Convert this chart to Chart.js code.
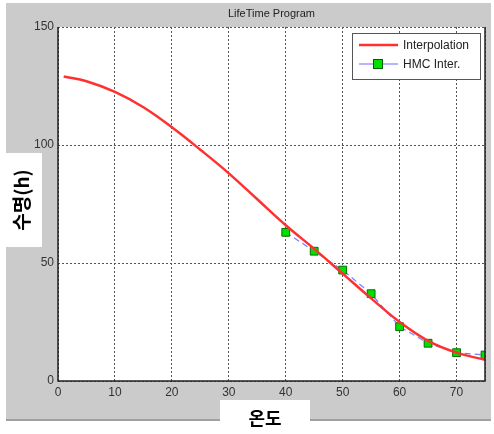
<!DOCTYPE html>
<html>
<head>
<meta charset="utf-8">
<script src="https://cdn.jsdelivr.net/npm/chart.js@4"></script>
<style>
  html, body { margin: 0; padding: 0; background: #fff; }
  #wrap { width: 494px; height: 434px; }
</style>
</head>
<body>
<div id="wrap"><canvas id="myChart"></canvas></div>
<script>
let interpX = [1, 5, 10, 15, 20, 25, 30, 35, 40, 45, 50, 55, 60, 65, 70, 75];
let interpY = [129, 127, 122.5, 116, 107.5, 98, 88, 77, 66, 56, 45.5, 35, 25, 17, 12, 9];
let hmcX = [40, 45, 50, 55, 60, 65, 70, 75];
let hmcY = [63, 55, 47, 37, 23, 16, 12, 11];
let xTicks = [0, 10, 20, 30, 40, 50, 60, 70];
let yTicks = [0, 50, 100, 150];
let labels = ['Interpolation', 'HMC Inter.'];

let decor = {
    id: 'decor',
    beforeDraw(chart) {
        let c = chart.ctx;
        c.save();
        c.fillStyle = '#cbcbcb';
        c.fillRect(6, 3, 485, 418);
        c.fillStyle = '#a0a0a0';
        c.fillRect(6, 419, 485, 2);
        c.fillStyle = '#fff';
        let a = chart.chartArea;
        c.fillRect(a.left, a.top, a.right - a.left, a.bottom - a.top);
        c.restore();
    },
    afterDatasetsDraw(chart) {
        let c = chart.ctx;
        let a = chart.chartArea;
        c.save();
        c.strokeStyle = '#222';
        c.lineWidth = 1.5;
        c.beginPath();
        c.moveTo(a.left, a.top);
        c.lineTo(a.left, a.bottom);
        c.lineTo(a.right, a.bottom);
        c.lineTo(a.right, a.top);
        c.stroke();
        c.restore();
    },
    afterDraw(chart) {
        let c = chart.ctx;
        let a = chart.chartArea;
        c.save();
        // title
        c.fillStyle = '#222';
        c.font = '11px Arial, "Liberation Sans", sans-serif';
        c.textAlign = 'center';
        c.textBaseline = 'middle';
        c.fillText('LifeTime Program', (a.left + a.right) / 2, 14);
        // axis label boxes
        c.fillStyle = '#fff';
        c.fillRect(0, 153, 42, 94);
        c.fillRect(220, 400, 90, 34);
        c.fillStyle = '#000';
        c.font = 'bold 18px "Noto Sans CJK KR", sans-serif';
        c.fillText('온도', 265, 418);
        c.save();
        c.translate(22, 200);
        c.rotate(-Math.PI / 2);
        c.font = 'bold 19px "Noto Sans CJK KR", sans-serif';
        c.fillText('수명(h)', 0, 0);
        c.restore();
        // legend
        let lx = 352, ly = 33, lw = 128, lh = 46;
        c.fillStyle = '#fff';
        c.fillRect(lx, ly, lw, lh);
        c.strokeStyle = '#555';
        c.lineWidth = 1;
        c.strokeRect(lx + 0.5, ly + 0.5, lw, lh);
        c.lineWidth = 2.5;
        c.strokeStyle = '#ff3030';
        c.beginPath(); c.moveTo(359, 45); c.lineTo(398, 45); c.stroke();
        c.lineWidth = 1;
        c.strokeStyle = '#6a6aff';
        c.beginPath(); c.moveTo(359, 64); c.lineTo(398, 64); c.stroke();
        c.fillStyle = '#00e000';
        c.fillRect(373, 59, 10, 10);
        c.strokeStyle = '#006000';
        c.strokeRect(373.5, 59.5, 9, 9);
        c.fillStyle = '#222';
        c.font = '12px Arial, "Liberation Sans", sans-serif';
        c.textAlign = 'left';
        c.fillText(labels[0], 403, 46);
        c.fillText(labels[1], 403, 65);
        c.restore();
    }
};

let ctx = document.getElementById('myChart').getContext('2d');
let chart = new Chart(ctx, {
    type: 'scatter',
    data: {
        datasets: [
            {
                label: labels[0],
                data: interpX.map((x, i) => ({ x: x, y: interpY[i] })),
                showLine: true,
                borderColor: '#ff3030',
                borderWidth: 2.5,
                pointRadius: 0,
                tension: 0.4
            },
            {
                label: labels[1],
                data: hmcX.map((x, i) => ({ x: x, y: hmcY[i] })),
                showLine: true,
                borderColor: '#7a7aff',
                borderWidth: 1.2,
                borderDash: [6, 4],
                pointStyle: 'rect',
                pointRadius: 5.5,
                pointBackgroundColor: '#00e000',
                pointBorderColor: '#007000',
                pointBorderWidth: 1
            }
        ]
    },
    options: {
        responsive: true,
        maintainAspectRatio: false,
        animation: false,
        layout: { padding: { left: 0, right: 9, top: 27, bottom: 0 } },
        plugins: {
            legend: { display: false },
            title: { display: false },
            tooltip: { enabled: false }
        },
        scales: {
            x: {
                type: 'linear',
                min: 0,
                max: 75,
                afterBuildTicks: s => { s.ticks = xTicks.concat([75]).map(v => ({ value: v })); },
                afterFit: s => { s.height = 53; },
                ticks: {
                    callback: v => (v === 75 ? '' : v),
                    color: '#333',
                    font: { size: 12, family: 'Arial, "Liberation Sans", sans-serif' },
                    padding: 4,
                    maxRotation: 0
                },
                grid: { color: '#555', lineWidth: 1, drawTicks: false },
                border: { display: false, dash: [2, 2] }
            },
            y: {
                min: 0,
                max: 150,
                afterBuildTicks: s => { s.ticks = yTicks.map(v => ({ value: v })); },
                afterFit: s => { s.width = 58; },
                ticks: {
                    color: '#333',
                    font: { size: 12, family: 'Arial, "Liberation Sans", sans-serif' },
                    padding: 4
                },
                grid: { color: '#555', lineWidth: 1, drawTicks: false },
                border: { display: false, dash: [2, 2] }
            }
        }
    },
    plugins: [decor]
});
</script>
</body>
</html>
